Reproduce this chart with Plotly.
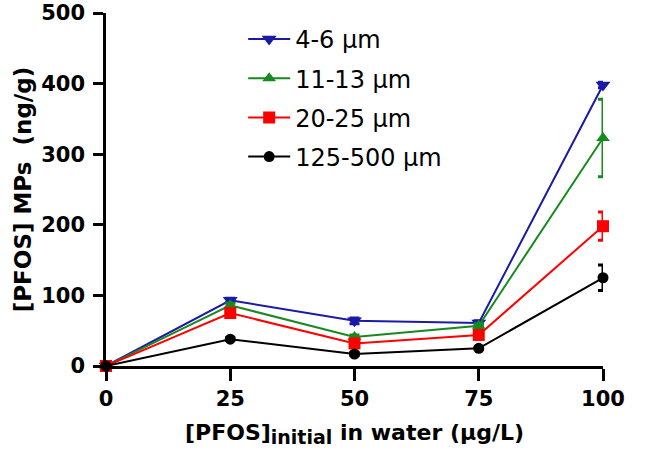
import plotly.graph_objects as go

x_conc = [0, 25, 50, 75, 100]
series_names = ["4-6 µm", "11-13 µm", "20-25 µm", "125-500 µm"]
y_4_6 = [0, 93, 64, 61, 398]
y_11_13 = [0, 86, 41, 57, 323]
y_20_25 = [0, 75, 32, 44, 198]
y_125_500 = [0, 38, 17, 25, 125]
err_4_6 = [0, 3, 4, 3, 4]
err_11_13 = [0, 3, 3, 3, 55]
err_20_25 = [0, 3, 3, 3, 20]
err_125_500 = [0, 2, 2, 2, 18]
x_ticks = [0, 25, 50, 75, 100]
y_ticks = [0, 100, 200, 300, 400, 500]

colors = ["#1a1aa6", "#178a1f", "#ff0000", "#000000"]
symbols = ["triangle-down", "triangle-up", "square", "circle"]
ys = [y_4_6, y_11_13, y_20_25, y_125_500]
errs = [err_4_6, err_11_13, err_20_25, err_125_500]
sizes = [13, 12, 12, 11]

fig = go.Figure()
for i in range(4):
    fig.add_trace(go.Scatter(
        x=x_conc, y=ys[i], name=series_names[i], mode="lines+markers",
        line=dict(color=colors[i], width=2),
        marker=dict(symbol=symbols[i], size=sizes[i], color=colors[i]),
        error_y=dict(type="data", array=errs[i], color=colors[i], thickness=3, width=5),
        cliponaxis=False, legendgroup=str(i),
    ))

font_family = "DejaVu Sans, Liberation Sans, Arial, sans-serif"
fig.update_layout(
    width=657, height=453,
    margin=dict(l=106, r=54, t=13, b=87),
    plot_bgcolor="white", paper_bgcolor="white",
    font=dict(family=font_family, color="black"),
    showlegend=True,
    legend=dict(x=0.276, y=0.989, xanchor="left", yanchor="top",
                font=dict(size=24, family=font_family, color="black"),
                tracegroupgap=5, bgcolor="rgba(0,0,0,0)", itemwidth=42),
    xaxis=dict(range=[0, 100], tickvals=x_ticks, ticktext=[str(v) for v in x_ticks],
               showgrid=False, zeroline=False, showline=True, linecolor="black", linewidth=2.5,
               ticks="outside", ticklen=12, tickwidth=2.5, tickcolor="black",
               tickfont=dict(size=21, weight="bold"), automargin=False,
               ticklabeloverflow="allow",
               title=dict(text="[PFOS]<sub><span style=\"font-size:19px\">initial</span></sub> in water (µg/L)",
                          font=dict(size=22, weight="bold"), standoff=15)),
    yaxis=dict(range=[0, 500], tickvals=y_ticks, ticktext=[str(v) for v in y_ticks],
               showgrid=False, zeroline=False, showline=True, linecolor="black", linewidth=2.5,
               ticks="outside", ticklen=10, tickwidth=2.5, tickcolor="black",
               tickfont=dict(size=21, weight="bold"), automargin=False,
               ticklabeloverflow="allow", ticklabelstandoff=4,
               title=dict(text="[PFOS] MPs\u00a0\u00a0(ng/g)",
                          font=dict(size=23, weight="bold"), standoff=4)),
)

fig.write_html("out.html", config={"displayModeBar": False},
               post_script="document.body.style.margin='0px';")
